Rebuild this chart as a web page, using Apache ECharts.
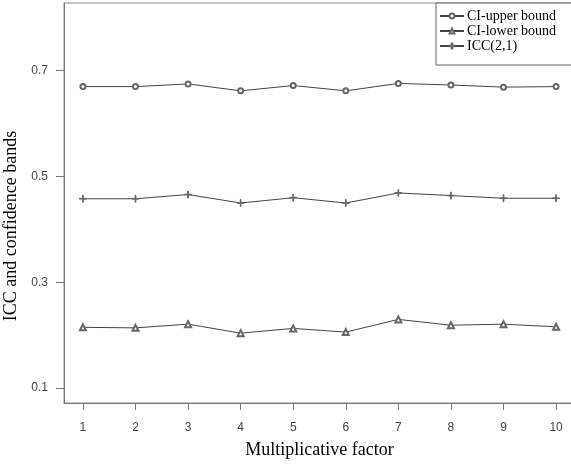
<!DOCTYPE html>
<html>
<head>
<meta charset="utf-8">
<script src="https://cdn.jsdelivr.net/npm/echarts@6/dist/echarts.min.js"></script>
<style>
  html, body { margin: 0; padding: 0; background: #fff; }
  #chart { width: 571px; height: 466px; }
</style>
</head>
<body>
<div id="chart"></div>
<script>
const factors = [1, 2, 3, 4, 5, 6, 7, 8, 9, 10];
const upper = [0.670, 0.670, 0.675, 0.662, 0.672, 0.662, 0.676, 0.673, 0.669, 0.670];
const lower = [0.215, 0.214, 0.221, 0.204, 0.213, 0.206, 0.230, 0.219, 0.221, 0.216];
const icc = [0.458, 0.458, 0.466, 0.450, 0.460, 0.450, 0.469, 0.464, 0.459, 0.459];
const yTicks = [0.1, 0.3, 0.5, 0.7];

const plus = 'path://M4.5,0H5.5V4.5H10V5.5H5.5V10H4.5V5.5H0V4.5H4.5Z';
const pairs = vals => factors.map((f, i) => [f, vals[i]]);

const mk = (name, vals, symbol, size) => ({
  name, type: 'line', data: pairs(vals),
  symbol, symbolSize: size,
  lineStyle: { color: '#444', width: 1 },
  itemStyle: { color: '#666', borderColor: '#666', borderWidth: 1 },
  emphasis: { disabled: true },
  z: 3
});

const chart = echarts.init(document.getElementById('chart'));
chart.setOption({
  animation: false,
  grid: {
    left: 64, top: 3, right: -4, bottom: 63,
    outerBoundsMode: 'none', containLabel: false,
    show: true, borderColor: '#888', borderWidth: 1
  },
  legend: {
    left: 436, top: 3,
    orient: 'vertical',
    backgroundColor: '#fff',
    borderColor: '#666', borderWidth: 1,
    padding: [6, 40, 12, 3],
    itemGap: 1,
    itemWidth: 24, itemHeight: 6,
    textStyle: { fontFamily: 'Liberation Serif', fontSize: 14, color: '#000', padding: [0, 0, 0, -2] },
    data: ['CI-upper bound', 'CI-lower bound', 'ICC(2,1)']
  },
  xAxis: {
    type: 'value', min: 0.64, max: 10.36,
    name: 'Multiplicative factor', nameLocation: 'middle', nameGap: 38,
    nameTextStyle: { fontFamily: 'Liberation Serif', fontSize: 18, color: '#000' },
    axisLine: { show: true, lineStyle: { color: '#777', width: 1 } },
    axisTick: { show: true, length: 7, customValues: factors, lineStyle: { color: '#777' } },
    axisLabel: { customValues: factors, margin: 19, fontFamily: 'Liberation Sans', fontSize: 12, color: '#444' },
    splitLine: { show: false }
  },
  yAxis: {
    type: 'value', min: 0.072, max: 0.828,
    name: 'ICC and confidence bands', nameLocation: 'middle', nameGap: 42, nameRotate: 90,
    nameTextStyle: { fontFamily: 'Liberation Serif', fontSize: 18, color: '#000', padding: [0, 46, 0, 0] },
    axisLine: { show: true, lineStyle: { color: '#777', width: 1 } },
    axisTick: { show: true, length: 8, customValues: yTicks, lineStyle: { color: '#777' } },
    axisLabel: { customValues: yTicks, margin: 16, fontFamily: 'Liberation Sans', fontSize: 12, color: '#444', formatter: v => v.toFixed(1) },
    splitLine: { show: false }
  },
  series: [
    mk('CI-upper bound', upper, 'emptyCircle', 5),
    mk('CI-lower bound', lower, 'emptyTriangle', 6),
    mk('ICC(2,1)', icc, plus, 7)
  ]
});
</script>
</body>
</html>
